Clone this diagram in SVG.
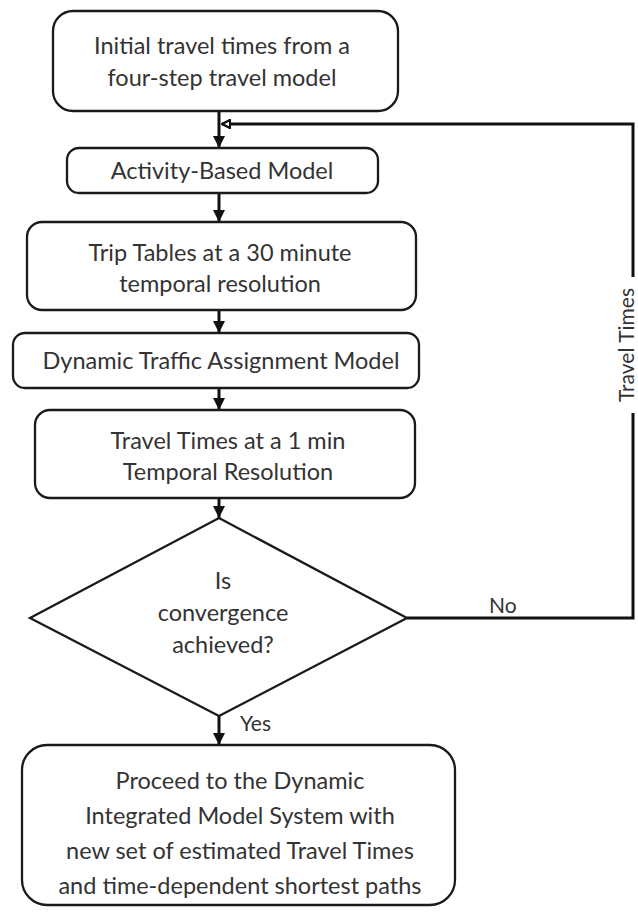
<svg xmlns="http://www.w3.org/2000/svg" width="638" height="918" viewBox="0 0 638 918">
  <defs>
    <marker id="arrow" viewBox="0 0 10 10" refX="10" refY="5" markerWidth="4" markerHeight="4" orient="auto" markerUnits="strokeWidth">
      <path d="M0,0 L10,5 L0,10 Z" fill="#111"/>
    </marker>
    <marker id="open" viewBox="0 0 10 10" refX="9" refY="5" markerWidth="3.4" markerHeight="3.4" orient="auto" markerUnits="strokeWidth">
      <path d="M1,1 L9,5 L1,9 Z" fill="#fff" stroke="#111" stroke-width="2.4" stroke-linejoin="miter"/>
    </marker>
    <style>
      .box { fill: #fff; stroke: #1a1a1a; stroke-width: 2.3; }
      .t { font-family: Lato, "Open Sans", "Liberation Sans", sans-serif; font-size: 23.5px; fill: #333; text-anchor: middle; }
      .lbl { font-family: Lato, "Open Sans", "Liberation Sans", sans-serif; font-size: 21px; fill: #333; }
      .conn { fill: none; stroke: #111; stroke-width: 3; }
    </style>
  </defs>

  <g id="connectors">
    <line class="conn" x1="219" y1="112" x2="219" y2="148" marker-end="url(#arrow)"/>
    <line class="conn" x1="219" y1="193" x2="219" y2="222" marker-end="url(#arrow)"/>
    <line class="conn" x1="219" y1="310" x2="219" y2="333" marker-end="url(#arrow)"/>
    <line class="conn" x1="219" y1="388" x2="219" y2="410" marker-end="url(#arrow)"/>
    <line class="conn" x1="219" y1="498" x2="219" y2="518" marker-end="url(#arrow)"/>
    <line class="conn" x1="219" y1="716" x2="219" y2="745" marker-end="url(#arrow)"/>
    <polyline class="conn" points="407,618 633,618 633,124 222,124" marker-end="url(#open)"/>
    <rect x="618" y="277" width="20" height="136" fill="#fff"/>
    <text class="lbl" transform="translate(634,345) rotate(-90)" text-anchor="middle">Travel Times</text>
    <text class="lbl" x="489" y="613">No</text>
    <text class="lbl" x="240" y="731">Yes</text>
  </g>

  <g id="node-initial">
    <rect class="box" x="53" y="11" width="345" height="100" rx="20"/>
    <text class="t" x="222" y="54">Initial travel times from a</text>
    <text class="t" x="222" y="86">four-step travel model</text>
  </g>

  <g id="node-abm">
    <rect class="box" x="67" y="148" width="311" height="45" rx="12"/>
    <text class="t" x="222" y="179">Activity-Based Model</text>
  </g>

  <g id="node-trip">
    <rect class="box" x="27" y="222" width="389" height="88" rx="15"/>
    <text class="t" x="220" y="261">Trip Tables at a 30 minute</text>
    <text class="t" x="220" y="292">temporal resolution</text>
  </g>

  <g id="node-dta">
    <rect class="box" x="13" y="333" width="406" height="55" rx="12"/>
    <text class="t" x="221" y="369">Dynamic Traffic Assignment Model</text>
  </g>

  <g id="node-tt">
    <rect class="box" x="35" y="410" width="380" height="88" rx="15"/>
    <text class="t" x="228" y="449">Travel Times at a 1 min</text>
    <text class="t" x="228" y="480">Temporal Resolution</text>
  </g>

  <g id="node-convergence">
    <polygon class="box" points="219,518 407,618 219,716 30,618" stroke-width="3"/>
    <text class="t" x="223" y="589">Is</text>
    <text class="t" x="223" y="621">convergence</text>
    <text class="t" x="223" y="653">achieved?</text>
  </g>

  <g id="node-proceed">
    <rect class="box" x="22" y="745" width="433" height="160" rx="25"/>
    <text class="t" x="240" y="789">Proceed to the Dynamic</text>
    <text class="t" x="240" y="824">Integrated Model System with</text>
    <text class="t" x="240" y="859">new set of estimated Travel Times</text>
    <text class="t" x="240" y="894">and time-dependent shortest paths</text>
  </g>
</svg>
